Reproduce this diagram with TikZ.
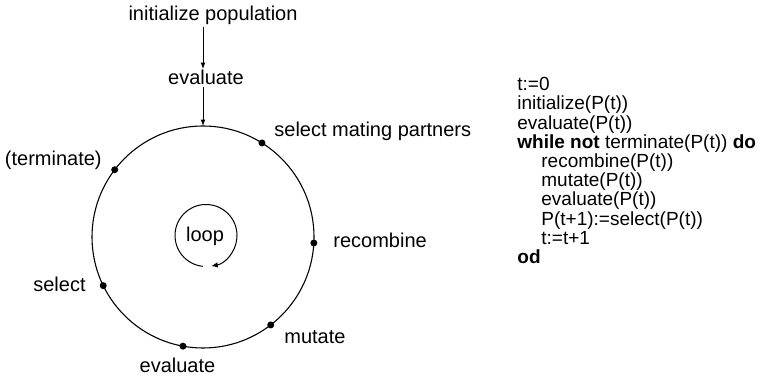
\documentclass[tikz,border=0pt]{standalone}
\usepackage{fontspec}
\setmainfont{Liberation Sans}
\usetikzlibrary{calc,arrows.meta}
\begin{document}
\begin{tikzpicture}[x=0.5pt,y=0.5pt,
  lbl/.style={inner sep=0.5pt,font=\fontsize{10}{12}\selectfont},
  arr/.style={line width=0.5pt,-{Latex[length=3.2pt,width=2.4pt]}},
  ring/.style={line width=0.55pt},
  dotmark/.style={fill=black}]
\useasboundingbox (0,0) rectangle (775,379);
% main cycle
\coordinate (c) at (203,142);
\draw[ring] (c) circle[radius=55.5pt];
\coordinate (ctop) at ($(c)+(90:55.5pt)$);
\coordinate (dsmp) at ($(c)+(57.9:55.5pt)$);
\coordinate (dterm) at ($(c)+(142.7:55.5pt)$);
\coordinate (drec) at ($(c)+(-3.1:55.5pt)$);
\coordinate (dmut) at ($(c)+(-52.4:55.5pt)$);
\coordinate (deval) at ($(c)+(-100.4:55.5pt)$);
\coordinate (dsel) at ($(c)+(206:55.5pt)$);
\foreach \d in {dsmp,dterm,drec,dmut,deval,dsel}
  \fill[dotmark] (\d) circle (1.75pt);
% labels
\node[lbl,anchor=base] (initpop) at (213,358) {initialize population};
\node[lbl,anchor=base] (evaltop) at (206,294) {evaluate};
\node[lbl,anchor=base west] (smp) at (273,242) {select mating partners};
\node[lbl,anchor=base east] (term) at (103,213) {(terminate)};
\node[lbl,anchor=base west] (rec) at (332,131) {recombine};
\node[lbl,anchor=base west] (mut) at (283,35) {mutate};
\node[lbl,anchor=base] (evalbot) at (177.5,6) {evaluate};
\node[lbl,anchor=base east] (sel) at (87,87) {select};
\node[lbl,anchor=base] (loop) at (205,137) {loop};
% entry arrows
\draw[arr] (initpop.south -| ctop) -- (evaltop.north -| ctop);
\draw[arr] (evaltop.south -| ctop) -- (ctop);
% loop arrow
\draw[line width=0.5pt,-{Latex[length=3.2pt,width=2.8pt]}]
  ($(206,143.5)+(264:15.5pt)$) arc[start angle=264,end angle=-80,radius=15.5pt];
% pseudo code
\node[anchor=north west,inner sep=0pt,align=left,
      font=\fontsize{9.5}{9.6}\selectfont] (code) at (517,302) {%
t:=0\\
initialize(P(t))\\
evaluate(P(t))\\
\textbf{while not} terminate(P(t)) \textbf{do}\\
\hspace*{12pt}recombine(P(t))\\
\hspace*{12pt}mutate(P(t))\\
\hspace*{12pt}evaluate(P(t))\\
\hspace*{12pt}P(t+1):=select(P(t))\\
\hspace*{12pt}t:=t+1\\
\textbf{od}};
\end{tikzpicture}
\end{document}
